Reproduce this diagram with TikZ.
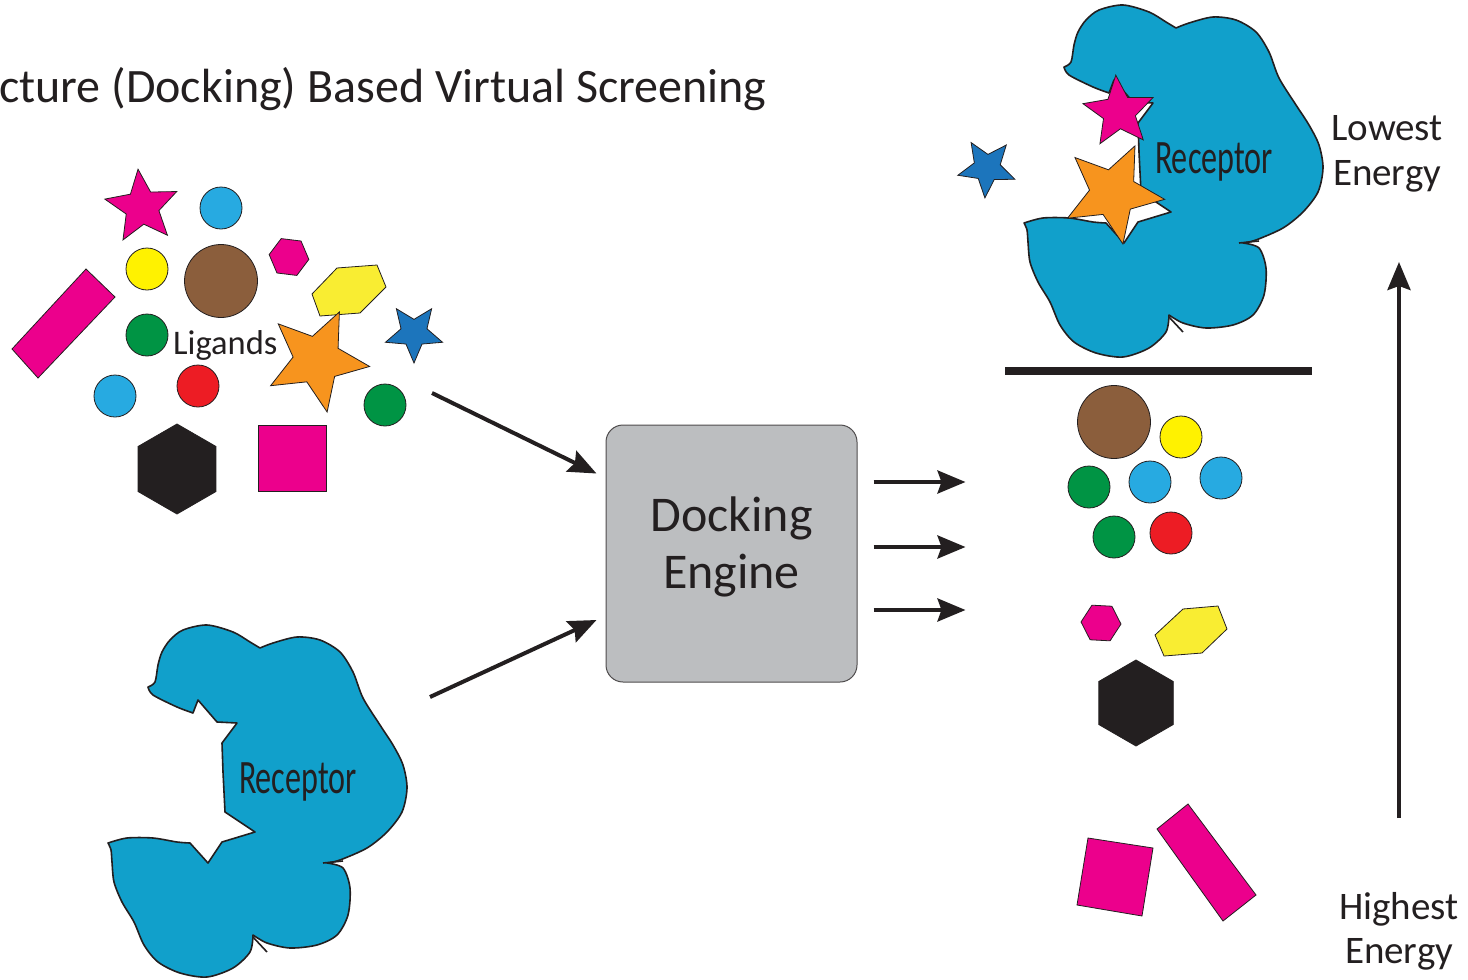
\documentclass[tikz,border=0pt]{standalone}
\usepackage{fontspec}
\usepackage{graphicx}
\setmainfont{Carlito}
\usetikzlibrary{arrows.meta, shapes.geometric}

\definecolor{ligmag}{RGB}{236,0,140}
\definecolor{ligcyan}{RGB}{39,170,225}
\definecolor{ligyel}{RGB}{255,242,0}
\definecolor{ligyel2}{RGB}{249,237,50}
\definecolor{ligbrown}{RGB}{139,94,60}
\definecolor{liggreen}{RGB}{0,148,68}
\definecolor{ligred}{RGB}{237,28,36}
\definecolor{ligorange}{RGB}{247,148,30}
\definecolor{ligblue}{RGB}{28,117,188}
\definecolor{ligblack}{RGB}{35,31,32}
\definecolor{recblue}{RGB}{17,160,203}
\definecolor{enggray}{RGB}{188,190,192}
\definecolor{ink}{RGB}{35,31,32}

\tikzset{
  recep/.style={draw=ink, line width=1.6pt, fill=recblue, line join=round},
  receptor/.pic={
    \path[recep]
      plot[smooth] coordinates {(148,687) (155,682) (158,665) (162,652) (170,640) (183,630) (207,625) (233,632) (250,642) (260,648)}
      -- plot[smooth] coordinates {(260,648) (273,643) (297,637) (320,640) (340,652) (353,672) (363,698) (380,725) (393,745) (403,765) (407,788) (402,812) (387,832) (367,848) (340,860) (327,863)}
      -- plot[smooth] coordinates {(327,863) (343,868) (350,888) (348,915) (337,935) (317,945) (290,948) (267,943) (253,935)}
      -- plot[smooth] coordinates {(253,935) (250,952) (233,968) (207,977) (180,973) (158,962) (144,945) (134,922) (122,902) (114,882) (112,862) (111,850) (108,843)}
      -- plot[smooth] coordinates {(108,843) (127,838) (153,838) (177,842) (190,843)}
      -- (208,863) -- (222,842) -- (255,832) -- (225,812) -- (223,772) -- (222,743)
      -- (237,723) -- (217,722) -- (198,700) -- (193,713)
      -- plot[smooth] coordinates {(193,713) (177,707) (153,695) (148,687)} -- cycle;
    \draw[ink, line width=1.6pt] (323,863) -- (343,861);
    \draw[ink, line width=1.6pt] (253,937) -- (267,952);
    \node[lbl, font=\fontsize{48}{48}\selectfont] (-lbl) at (298,782) {\scalebox{0.67}[1]{Receptor}};
  }
}

\begin{document}
\begin{tikzpicture}[
    x=1pt, y=-1pt,
    lbl/.style={inner sep=0pt, text=ink},
    shp/.style={draw=ink, line width=0.8pt},
    ball/.style={shp, circle, inner sep=0pt, minimum size=42pt},
    hexa/.style={shp, regular polygon, regular polygon sides=6, inner sep=0pt},
    stl/.style={shp, star, star points=5, star point ratio=2.2, inner sep=0pt},
    engine/.style={draw=ink!80, line width=1pt, fill=enggray, rounded corners=17pt,
                   minimum width=251pt, minimum height=257pt},
    arr/.style={-{Stealth[length=28pt, width=23pt, inset=4pt]}, line width=4pt, draw=ink},
]
\useasboundingbox (0,0) rectangle (1468,980);

\node[lbl, anchor=base west, font=\fontsize{48}{48}\selectfont] (title) at (-1,102) {cture (Docking) Based Virtual Screening};

% ligand pool
\node[stl, fill=ligmag, minimum size=76pt, rotate=6] (sm1) at (142,207) {};
\node[ball, fill=ligcyan] (c1) at (221,208) {};
\node[ball, fill=ligyel] (y1) at (147,269) {};
\node[ball, fill=ligbrown, minimum size=73pt] (br1) at (221,281) {};
\node[hexa, fill=ligmag, minimum size=40pt, rotate=-7] (hm1) at (289,257) {};
\draw[shp, fill=ligyel2] (312,294) -- (337,268) -- (377,265) -- (386,287) -- (360,313) -- (320,316) -- cycle;
\draw[shp, fill=ligmag] (12,349) -- (86,269) -- (115,297) -- (38,378) -- cycle;
\node[ball, fill=liggreen] (g1) at (147,335) {};
\node[stl, fill=ligorange, minimum size=106pt, rotate=-25] (so1) at (317,360) {};
\node[stl, fill=ligblue, minimum size=60pt, rotate=180] (sb1) at (414,333) {};
\node[ball, fill=ligcyan] (c2) at (115,396) {};
\node[ball, fill=ligred] (r1) at (198,386) {};
\node[ball, fill=liggreen] (g2) at (385,405) {};
\node[hexa, fill=ligblack, minimum size=90pt, rotate=30] (hk1) at (177,469) {};
\draw[shp, fill=ligmag] (258,425) rectangle (326,491);
\node[lbl, anchor=base west, font=\fontsize{34.5}{34.5}\selectfont] (lig) at (173,354) {Ligands};

% receptors
\pic (recL) at (0,0) {receptor};
\pic (recR) at (916,-620) {receptor};
\node[stl, fill=ligmag, minimum size=74pt, rotate=5] (sm2) at (1119,112) {};
\node[stl, fill=ligorange, minimum size=104pt, rotate=-25] (so2) at (1113,193) {};
\node[stl, fill=ligblue, minimum size=60pt, rotate=176] (sb2) at (987,168) {};

% docking engine
\node[engine] (eng) at (731.5,553.5) {};
\node[lbl, align=center, font=\fontsize{50}{57}\selectfont] (engtxt) at ([yshift=7pt]eng.center) {Docking\\Engine};
\coordinate (ligout) at (432,393);
\coordinate (recout) at (430,697);
\draw[arr] (ligout) -- ([xshift=-9pt, yshift=80pt]eng.west);
\draw[arr] (recout) -- ([xshift=-9pt, yshift=-66.5pt]eng.west);
\foreach \dy in {71.5, 6.5, -56.5}
  \draw[arr] ([xshift=16pt, yshift=\dy pt]eng.east) -- ++(92,0);

% ranked results
\draw[ink, line width=8pt] (1005,371) -- (1312,371);
\node[ball, fill=ligbrown, minimum size=73pt] (br2) at (1114,422) {};
\node[ball, fill=ligyel] (y2) at (1181,437) {};
\node[ball, fill=liggreen] (g3) at (1089,487) {};
\node[ball, fill=ligcyan] (c3) at (1150,482) {};
\node[ball, fill=ligcyan] (c4) at (1221,478) {};
\node[ball, fill=liggreen] (g4) at (1114,537) {};
\node[ball, fill=ligred] (r2) at (1171,533) {};
\node[hexa, fill=ligmag, minimum size=40pt, rotate=-3] (hm2) at (1101,623) {};
\draw[shp, fill=ligyel2] (1155,635) -- (1183,609) -- (1218,606) -- (1227,629) -- (1202,653) -- (1164,656) -- cycle;
\node[hexa, fill=ligblack, minimum size=86pt, rotate=30] (hk2) at (1136,703) {};
\draw[shp, fill=ligmag] (1088,838) -- (1153,848) -- (1142,916) -- (1077,905) -- cycle;
\draw[shp, fill=ligmag] (1157,829) -- (1188,804) -- (1256,895) -- (1223,921) -- cycle;

\node[lbl, align=center, font=\fontsize{39}{45}\selectfont] (lowE) at (1387,154) {Lowest\\Energy};
\node[lbl, align=center, font=\fontsize{39}{44}\selectfont] (highE) at (1399,931) {Highest\\Energy};
\coordinate (ebot) at (1399,818);
\coordinate (etop) at (1399,262);
\draw[arr] (ebot) -- (etop);
\end{tikzpicture}
\end{document}
